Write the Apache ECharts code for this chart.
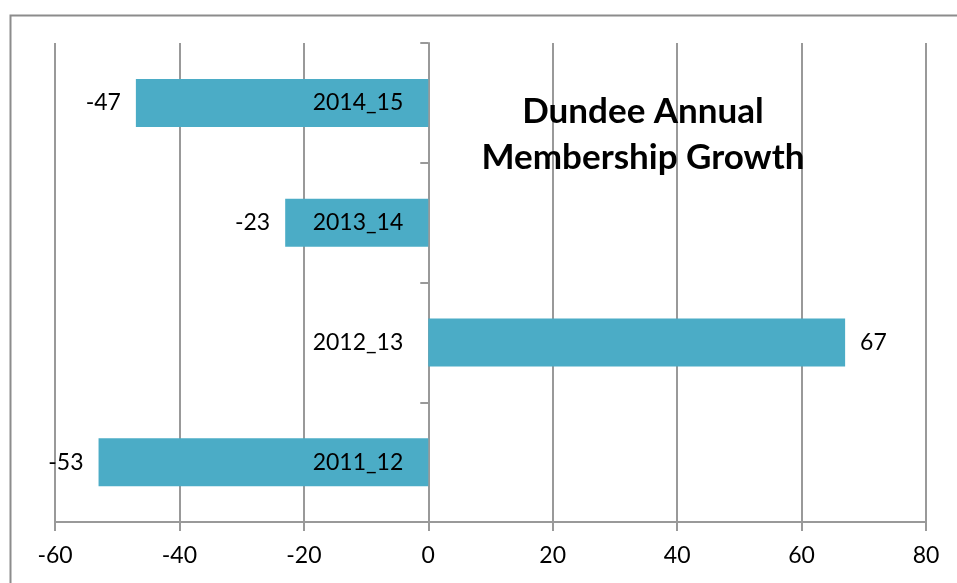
<!DOCTYPE html>
<html>
<head>
<meta charset="utf-8">
<script src="https://cdn.jsdelivr.net/npm/echarts@6/dist/echarts.min.js"></script>
<style>
  html, body { margin: 0; padding: 0; background: #fff; }
  #chart { width: 957px; height: 583px; }
</style>
</head>
<body>
<div id="chart"></div>
<script>
// data, bottom to top
var seasons = ['2011_12', '2012_13', '2013_14', '2014_15'];
var growth = [-53, 67, -23, -47];
var xTicks = [-60, -40, -20, 0, 20, 40, 60, 80];

var barColor = '#4bacc6';
var gridColor = '#999999';
var font = 'Lato, "Open Sans", sans-serif';

var myChart = echarts.init(document.getElementById('chart'));

// value labels at the bar ends
var valueData = growth.map(function (v) {
    return { value: v, label: { position: v < 0 ? 'left' : 'right' } };
});
// season names sit just left of the zero line
var nameData = growth.map(function (v) {
    return { value: v, label: { position: v < 0 ? 'insideRight' : 'left' } };
});

myChart.setOption({
    animation: false,
    title: {
        text: 'Dundee Annual\nMembership Growth',
        left: 638,
        top: 84,
        textAlign: 'center',
        textStyle: {
            fontFamily: font,
            fontSize: 35,
            fontWeight: 'bold',
            lineHeight: 46,
            color: '#000'
        }
    },
    graphic: [{
        type: 'rect',
        left: 8,
        top: 13,
        shape: { width: 1000, height: 1000 },
        style: { fill: 'none', stroke: '#8c8c8c', lineWidth: 2 },
        silent: true
    }],
    grid: { left: 55, right: 31, top: 43, bottom: 61, outerBoundsMode: 'none' },
    xAxis: {
        type: 'value',
        min: xTicks[0],
        max: xTicks[xTicks.length - 1],
        interval: 20,
        axisLine: { show: true, lineStyle: { color: gridColor, width: 2 } },
        axisTick: { show: true, length: 9, lineStyle: { color: gridColor, width: 2 } },
        splitLine: { show: true, lineStyle: { color: gridColor, width: 2 } },
        axisLabel: { margin: 22, fontFamily: font, fontSize: 23, color: '#000' }
    },
    yAxis: {
        type: 'category',
        data: seasons,
        axisLine: { show: true, onZero: true, lineStyle: { color: gridColor, width: 2 } },
        axisTick: { show: true, length: 8, lineStyle: { color: gridColor, width: 2 } },
        axisLabel: { show: false }
    },
    series: [{
        type: 'bar',
        data: valueData,
        barWidth: 48,
        itemStyle: { color: barColor },
        label: {
            show: true,
            distance: 15,
            fontFamily: font,
            fontSize: 23,
            color: '#000'
        },
        z: 1
    }, {
        type: 'bar',
        data: nameData,
        barWidth: 48,
        barGap: '-100%',
        itemStyle: { color: 'rgba(0,0,0,0)' },
        label: {
            show: true,
            distance: 25,
            fontFamily: font,
            fontSize: 23,
            color: '#000',
            formatter: function (p) { return seasons[p.dataIndex]; }
        },
        z: 2
    }]
});
</script>
</body>
</html>
